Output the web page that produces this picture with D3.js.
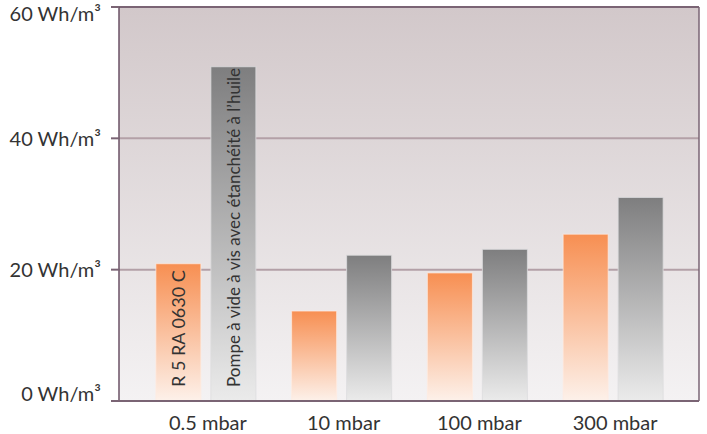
<!DOCTYPE html>
<html><head><meta charset="utf-8">
<script src="https://cdn.jsdelivr.net/npm/d3@7"></script>
<style>body{margin:0;background:#fff}svg{display:block}text{font-family:"Lato",sans-serif;fill:#333}</style>
</head><body>
<svg id="c" width="707" height="434"></svg>
<script>
const categories = ["0.5 mbar","10 mbar","100 mbar","300 mbar"];
const seriesNames = ["R 5 RA 0630 C","Pompe à vide à vis avec étanchéité à l’huile"];
const orangeValues = [20.9, 13.7, 19.5, 25.4];
const grayValues = [50.9, 22.2, 23.1, 31.0];
const yTicks = [0, 20, 40, 60];
const yTickLabels = ["0 Wh/m³","20 Wh/m³","40 Wh/m³","60 Wh/m³"];

const svg = d3.select("#c");
const L = 119, R = 699, T = 7, B = 401;
const y = d3.scaleLinear().domain([0,60]).range([B,T]);
const x0 = d3.scaleBand().domain(categories).range([138,681]).padding(0);
const x1 = d3.scaleBand().domain([0,1]).range([-50,50]).paddingInner(0.1818).paddingOuter(0);

const defs = svg.append("defs");
function grad(id, top, bottom){
  const g = defs.append("linearGradient").attr("id",id).attr("x1",0).attr("y1",0).attr("x2",0).attr("y2",1);
  g.append("stop").attr("offset","0%").attr("stop-color",top);
  g.append("stop").attr("offset","100%").attr("stop-color",bottom);
}
grad("bg","#d2c8ca","#f4f2f3");
grad("og","#f78f52","#fdf1ea");
grad("gg","#7e7e7f","#ebebeb");

svg.append("rect").attr("x",L).attr("y",T).attr("width",R-L).attr("height",B-T).attr("fill","url(#bg)");

svg.append("g").selectAll("line").data([20,40]).join("line")
  .attr("x1",L).attr("x2",R).attr("y1",d=>y(d)).attr("y2",d=>y(d))
  .attr("stroke","#b3a0a7").attr("stroke-width",2);

const data = categories.map((c,i)=>({c, vals:[orangeValues[i], grayValues[i]]}));
const g = svg.append("g").selectAll("g").data(data).join("g")
  .attr("transform",d=>`translate(${x0(d.c)+x0.bandwidth()/2},0)`);
g.selectAll("rect").data(d=>d.vals.map((v,k)=>({v,k}))).join("rect")
  .attr("x",d=>x1(d.k)).attr("width",x1.bandwidth())
  .attr("y",d=>y(d.v)).attr("height",d=>B-y(d.v))
  .attr("fill",d=>d.k===0?"url(#og)":"url(#gg)")
  .attr("stroke",d=>d.k===0?"rgba(255,235,225,0.7)":"rgba(220,220,222,0.8)")
  .attr("stroke-width",1);

const first = x0(categories[0])+x0.bandwidth()/2;
const labelSizes = [18, 17];
seriesNames.forEach((s,k)=>{
  const cx = first + x1(k) + x1.bandwidth()/2;
  svg.append("text").attr("transform",`translate(${cx+6.5},${B-14}) rotate(-90)`)
    .attr("font-size",labelSizes[k]).attr("text-anchor","start").text(s);
});

svg.append("line").attr("x1",111).attr("x2",R).attr("y1",T).attr("y2",T).attr("stroke","#7a6474").attr("stroke-width",2);
svg.append("line").attr("x1",R).attr("x2",R).attr("y1",T).attr("y2",B).attr("stroke","#7a6474").attr("stroke-width",1.5);
svg.append("line").attr("x1",L).attr("x2",L).attr("y1",T).attr("y2",B).attr("stroke","#6a5064").attr("stroke-width",1.5);
svg.append("line").attr("x1",111).attr("x2",R).attr("y1",B).attr("y2",B).attr("stroke","#7a6474").attr("stroke-width",2);

svg.append("g").selectAll("line").data(yTicks).join("line")
  .attr("x1",111).attr("x2",L).attr("y1",d=>y(d)).attr("y2",d=>y(d))
  .attr("stroke","#7a6474").attr("stroke-width",2);
const labelShift = [0, 7, 8, 14];
svg.append("g").selectAll("text").data(yTicks).join("text")
  .attr("x",101).attr("y",(d,i)=>y(d)+labelShift[i]).attr("text-anchor","end").attr("font-size",20)
  .text((d,i)=>yTickLabels[i]);

svg.append("g").selectAll("text").data(categories).join("text")
  .attr("x",d=>x0(d)+x0.bandwidth()/2+2).attr("y",430).attr("text-anchor","middle").attr("font-size",20)
  .text(d=>d);
</script>
</body></html>
